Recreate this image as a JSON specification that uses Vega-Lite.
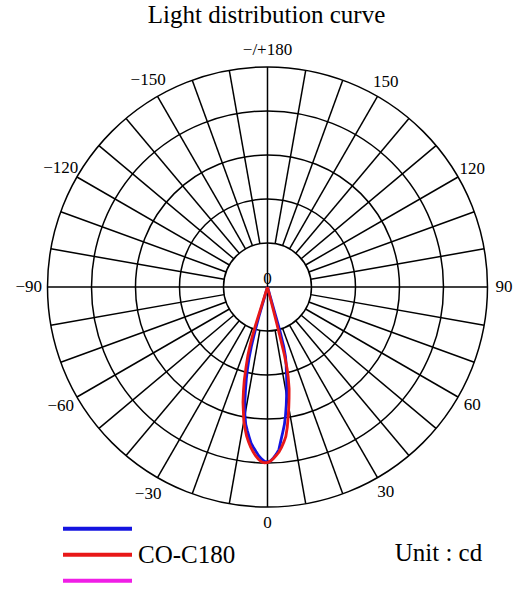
{
  "$schema": "https://vega.github.io/schema/vega-lite/v6.json",
  "width": 523,
  "height": 552,
  "autosize": {"type": "none"},
  "padding": {"left": 0, "top": 40, "right": 0, "bottom": 0},
  "background": "white",
  "title": {"text": "Light distribution curve", "font": "Liberation Serif", "fontSize": 25, "fontWeight": "normal", "color": "black", "anchor": "middle", "baseline": "alphabetic", "offset": 16, "dx": 5, "dy": 24},
  "config": {"view": {"stroke": null}, "font": "Liberation Serif"},
  "datasets": {
    "rings": [{"r": 20}, {"r": 40}, {"r": 60}, {"r": 80}, {"r": 100}],
    "spokes": [{"a": 0}, {"a": 10}, {"a": 20}, {"a": 30}, {"a": 40}, {"a": 50}, {"a": 60}, {"a": 70}, {"a": 80}, {"a": 90}, {"a": 100}, {"a": 110}, {"a": 120}, {"a": 130}, {"a": 140}, {"a": 150}, {"a": 160}, {"a": 170}, {"a": 180}, {"a": 190}, {"a": 200}, {"a": 210}, {"a": 220}, {"a": 230}, {"a": 240}, {"a": 250}, {"a": 260}, {"a": 270}, {"a": 280}, {"a": 290}, {"a": 300}, {"a": 310}, {"a": 320}, {"a": 330}, {"a": 340}, {"a": 350}],
    "labels": [
      {"a": 180, "t": "−/+180"}, {"a": 150, "t": "150"}, {"a": -150, "t": "−150"},
      {"a": 120, "t": "120"}, {"a": -120, "t": "−120"}, {"a": 90, "t": "90"},
      {"a": -90, "t": "−90"}, {"a": 60, "t": "60"}, {"a": -60, "t": "−60"},
      {"a": 30, "t": "30"}, {"a": -30, "t": "−30"}, {"a": 0, "t": "0"}
    ],
    "curves": [
      {"series": "C90-C270", "angle": -16.5, "cd": 0},
      {"series": "C90-C270", "angle": -16.2, "cd": 13.6},
      {"series": "C90-C270", "angle": -15.8, "cd": 20.5},
      {"series": "C90-C270", "angle": -15.2, "cd": 28.2},
      {"series": "C90-C270", "angle": -14.5, "cd": 33.6},
      {"series": "C90-C270", "angle": -13.7, "cd": 38.6},
      {"series": "C90-C270", "angle": -13, "cd": 42.7},
      {"series": "C90-C270", "angle": -12, "cd": 48.2},
      {"series": "C90-C270", "angle": -11, "cd": 54.1},
      {"series": "C90-C270", "angle": -10, "cd": 59.1},
      {"series": "C90-C270", "angle": -9, "cd": 63.2},
      {"series": "C90-C270", "angle": -8, "cd": 65.9},
      {"series": "C90-C270", "angle": -7, "cd": 68.6},
      {"series": "C90-C270", "angle": -6, "cd": 71.4},
      {"series": "C90-C270", "angle": -5, "cd": 73.2},
      {"series": "C90-C270", "angle": -4, "cd": 75.0},
      {"series": "C90-C270", "angle": -3, "cd": 76.8},
      {"series": "C90-C270", "angle": -2, "cd": 78.2},
      {"series": "C90-C270", "angle": -1, "cd": 79.3},
      {"series": "C90-C270", "angle": 0, "cd": 79.5},
      {"series": "C90-C270", "angle": 1, "cd": 79.1},
      {"series": "C90-C270", "angle": 2, "cd": 77.7},
      {"series": "C90-C270", "angle": 3, "cd": 76.1},
      {"series": "C90-C270", "angle": 4, "cd": 74.1},
      {"series": "C90-C270", "angle": 5, "cd": 70.0},
      {"series": "C90-C270", "angle": 6, "cd": 66.4},
      {"series": "C90-C270", "angle": 7, "cd": 63.0},
      {"series": "C90-C270", "angle": 8, "cd": 58.9},
      {"series": "C90-C270", "angle": 9, "cd": 54.5},
      {"series": "C90-C270", "angle": 10, "cd": 50.0},
      {"series": "C90-C270", "angle": 11, "cd": 45.9},
      {"series": "C90-C270", "angle": 12, "cd": 41.8},
      {"series": "C90-C270", "angle": 12.8, "cd": 38.6},
      {"series": "C90-C270", "angle": 13.5, "cd": 36.4},
      {"series": "C90-C270", "angle": 14.5, "cd": 32.7},
      {"series": "C90-C270", "angle": 15.2, "cd": 28.2},
      {"series": "C90-C270", "angle": 15.8, "cd": 20.5},
      {"series": "C90-C270", "angle": 15.9, "cd": 13.6},
      {"series": "C90-C270", "angle": 16, "cd": 0},
      {"series": "CO-C180", "angle": -17.5, "cd": 0},
      {"series": "CO-C180", "angle": -17.4, "cd": 18.2},
      {"series": "CO-C180", "angle": -17, "cd": 24.1},
      {"series": "CO-C180", "angle": -16.6, "cd": 28.2},
      {"series": "CO-C180", "angle": -16, "cd": 32.3},
      {"series": "CO-C180", "angle": -15, "cd": 37.7},
      {"series": "CO-C180", "angle": -14, "cd": 43.6},
      {"series": "CO-C180", "angle": -13, "cd": 48.6},
      {"series": "CO-C180", "angle": -12, "cd": 53.6},
      {"series": "CO-C180", "angle": -11, "cd": 57.5},
      {"series": "CO-C180", "angle": -10, "cd": 62.0},
      {"series": "CO-C180", "angle": -9, "cd": 65.2},
      {"series": "CO-C180", "angle": -8, "cd": 68.4},
      {"series": "CO-C180", "angle": -7, "cd": 70.9},
      {"series": "CO-C180", "angle": -6, "cd": 73.2},
      {"series": "CO-C180", "angle": -5, "cd": 75.2},
      {"series": "CO-C180", "angle": -4, "cd": 77.0},
      {"series": "CO-C180", "angle": -3, "cd": 78.4},
      {"series": "CO-C180", "angle": -2, "cd": 79.5},
      {"series": "CO-C180", "angle": -1, "cd": 79.9},
      {"series": "CO-C180", "angle": 0, "cd": 79.8},
      {"series": "CO-C180", "angle": 1, "cd": 79.1},
      {"series": "CO-C180", "angle": 2, "cd": 78.0},
      {"series": "CO-C180", "angle": 3, "cd": 76.6},
      {"series": "CO-C180", "angle": 4, "cd": 75.2},
      {"series": "CO-C180", "angle": 5, "cd": 73.2},
      {"series": "CO-C180", "angle": 6, "cd": 70.9},
      {"series": "CO-C180", "angle": 7, "cd": 68.4},
      {"series": "CO-C180", "angle": 8, "cd": 64.5},
      {"series": "CO-C180", "angle": 9, "cd": 60.0},
      {"series": "CO-C180", "angle": 10, "cd": 55.7},
      {"series": "CO-C180", "angle": 11, "cd": 51.4},
      {"series": "CO-C180", "angle": 12, "cd": 47.3},
      {"series": "CO-C180", "angle": 13, "cd": 41.8},
      {"series": "CO-C180", "angle": 13.5, "cd": 38.2},
      {"series": "CO-C180", "angle": 14, "cd": 31.8},
      {"series": "CO-C180", "angle": 14.2, "cd": 20.5},
      {"series": "CO-C180", "angle": 14.3, "cd": 11.4},
      {"series": "CO-C180", "angle": 14.4, "cd": 0}
    ]
  },
  "layer": [
    {
      "data": {"name": "rings"},
      "mark": {"type": "point", "shape": "circle", "filled": false, "stroke": "black", "strokeWidth": 1.5, "opacity": 1},
      "encoding": {
        "x": {"datum": 0, "type": "quantitative", "scale": {"domain": [-121.59, 116.14], "nice": false, "zero": false}, "axis": null},
        "y": {"datum": 0, "type": "quantitative", "scale": {"domain": [-138.64, 112.27], "nice": false, "zero": false}, "axis": null},
        "size": {"field": "r", "type": "quantitative", "scale": {"type": "pow", "exponent": 2, "domain": [0, 100], "range": [0, 193600]}, "legend": null}
      }
    },
    {
      "data": {"name": "spokes"},
      "transform": [
        {"calculate": "datum.a % 90 == 0 ? 0 : 20", "as": "r0"},
        {"calculate": "datum.r0 * sin(datum.a * PI / 180)", "as": "x0"},
        {"calculate": "-datum.r0 * cos(datum.a * PI / 180)", "as": "y0"},
        {"calculate": "100 * sin(datum.a * PI / 180)", "as": "x1"},
        {"calculate": "-100 * cos(datum.a * PI / 180)", "as": "y1"}
      ],
      "mark": {"type": "rule", "color": "black", "strokeWidth": 1.5},
      "encoding": {
        "x": {"field": "x0", "type": "quantitative"},
        "y": {"field": "y0", "type": "quantitative"},
        "x2": {"field": "x1"},
        "y2": {"field": "y1"}
      }
    },
    {
      "data": {"name": "curves"},
      "transform": [
        {"filter": "datum.series == 'C90-C270'"},
        {"calculate": "datum.cd * sin(datum.angle * PI / 180)", "as": "px"},
        {"calculate": "-datum.cd * cos(datum.angle * PI / 180)", "as": "py"}
      ],
      "mark": {"type": "line", "strokeWidth": 2.8},
      "encoding": {
        "x": {"field": "px", "type": "quantitative"},
        "y": {"field": "py", "type": "quantitative"},
        "order": {"field": "angle", "type": "quantitative"},
        "color": {
          "field": "series", "type": "nominal",
          "scale": {"domain": ["C90-C270", "CO-C180", "C45-C225"], "range": ["#1414e0", "#e81818", "#f01ee6"]},
          "legend": {
            "orient": "none", "legendX": 61, "legendY": 476, "title": null,
            "symbolType": "stroke", "symbolSize": 4761, "symbolStrokeWidth": 4, "symbolOpacity": 1,
            "labelFont": "Liberation Serif", "labelFontSize": 25, "labelColor": "black", "labelLimit": 0,
            "labelExpr": "datum.label == 'CO-C180' ? datum.label : ''",
            "clipHeight": 25.5, "rowPadding": 0, "padding": 0, "labelOffset": 4
          }
        }
      }
    },
    {
      "data": {"name": "curves"},
      "transform": [
        {"filter": "datum.series == 'CO-C180'"},
        {"calculate": "datum.cd * sin(datum.angle * PI / 180)", "as": "px"},
        {"calculate": "-datum.cd * cos(datum.angle * PI / 180)", "as": "py"}
      ],
      "mark": {"type": "line", "strokeWidth": 2.8},
      "encoding": {
        "x": {"field": "px", "type": "quantitative"},
        "y": {"field": "py", "type": "quantitative"},
        "order": {"field": "angle", "type": "quantitative"},
        "color": {"field": "series", "type": "nominal"}
      }
    },
    {
      "data": {"name": "labels"},
      "transform": [
        {"calculate": "datum.a < 0 ? 108.5 : 107.5", "as": "lr"},
        {"calculate": "datum.lr * sin(datum.a * PI / 180)", "as": "lx"},
        {"calculate": "-datum.lr * cos(datum.a * PI / 180)", "as": "ly"}
      ],
      "mark": {"type": "text", "font": "Liberation Serif", "fontSize": 17, "color": "black", "align": "center", "baseline": "middle"},
      "encoding": {
        "x": {"field": "lx", "type": "quantitative"},
        "y": {"field": "ly", "type": "quantitative"},
        "text": {"field": "t"}
      }
    },
    {
      "data": {"values": [{"t": "0"}]},
      "mark": {"type": "text", "font": "Liberation Serif", "fontSize": 17, "color": "black", "align": "center", "baseline": "middle", "dy": -8},
      "encoding": {
        "x": {"datum": 0, "type": "quantitative"},
        "y": {"datum": 0, "type": "quantitative"},
        "text": {"field": "t"}
      }
    },
    {
      "data": {"values": [{"t": "Unit : cd"}]},
      "mark": {"type": "text", "font": "Liberation Serif", "fontSize": 25, "color": "black", "align": "center", "baseline": "middle"},
      "encoding": {
        "x": {"datum": 77.7, "type": "quantitative"},
        "y": {"datum": -120.9, "type": "quantitative"},
        "text": {"field": "t"}
      }
    }
  ]
}
